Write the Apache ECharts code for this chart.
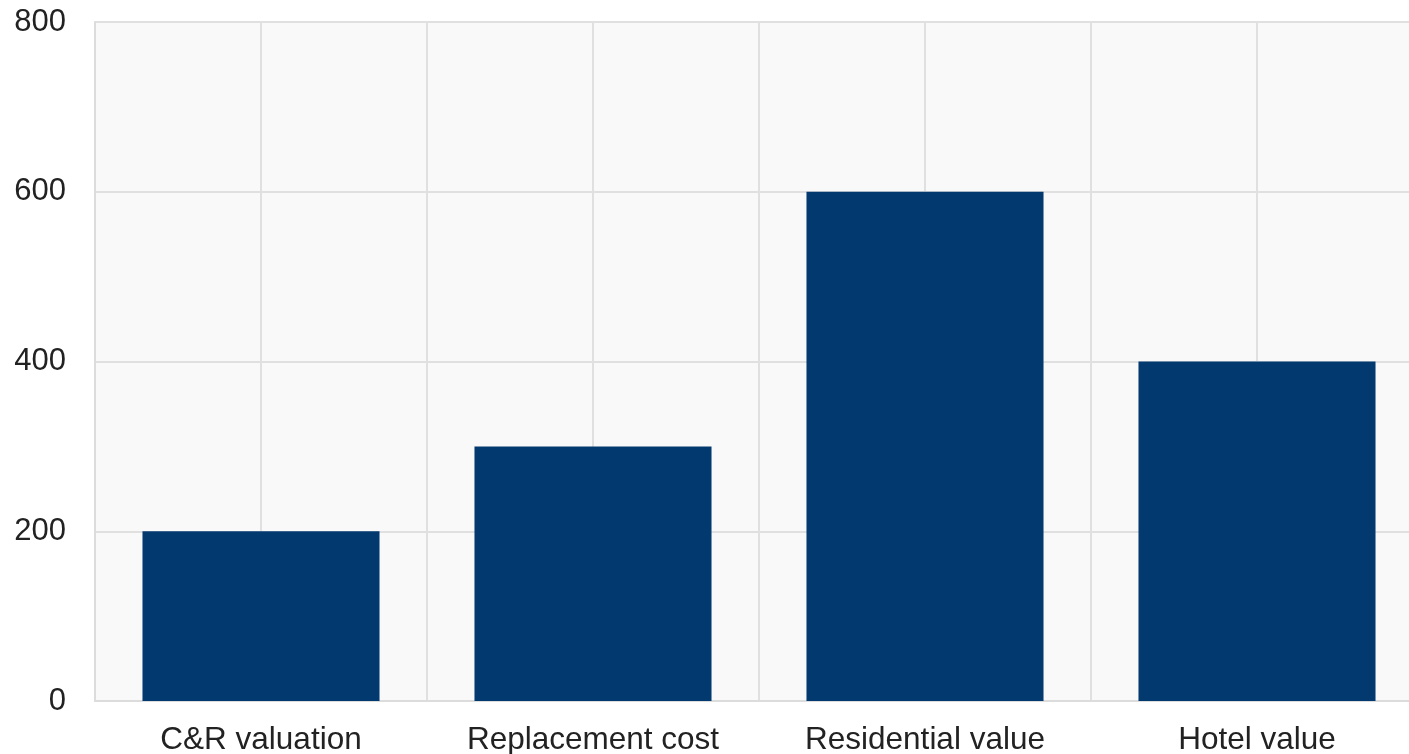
<!DOCTYPE html>
<html>
<head>
<meta charset="utf-8">
<script src="https://cdn.jsdelivr.net/npm/echarts@6/dist/echarts.min.js"></script>
<style>
  html, body { margin: 0; padding: 0; background: #fff; overflow: hidden; }
  #chart { width: 1423px; height: 754px; }
</style>
</head>
<body>
<div id="chart"></div>
<script>
var categories = ['C&R valuation', 'Replacement cost', 'Residential value', 'Hotel value'];
var values = [200, 300, 600, 400];
var yTicks = [0, 200, 400, 600, 800];

// the plot runs a little past the right edge of the window, as in the original
var chart = echarts.init(document.getElementById('chart'));
// second category axis only for the extra grid lines at bar centers
var halfSlots = [];
categories.forEach(function () {
    halfSlots.push('', '');
});
chart.setOption({
    animation: false,
    textStyle: {fontFamily: 'Liberation Sans, Arial, sans-serif'},
    grid: {
        left: 95, right: 0, top: 22, bottom: 53,
        outerBoundsMode: 'none',
        show: true, backgroundColor: '#f9f9f9', borderWidth: 0
    },
    xAxis: [{
        type: 'category',
        data: categories,
        axisLine: {lineStyle: {color: '#dcdcdc', width: 2}},
        axisTick: {show: false},
        splitLine: {show: true, lineStyle: {color: '#e0e0e0', width: 2}},
        axisLabel: {color: '#222', fontSize: 31.5, margin: 23, interval: 0}
    }, {
        type: 'category',
        data: halfSlots,
        position: 'bottom',
        axisLine: {show: false},
        axisTick: {show: false},
        axisLabel: {show: false},
        splitLine: {show: true, lineStyle: {color: '#e0e0e0', width: 2}}
    }],
    yAxis: {
        type: 'value',
        min: yTicks[0],
        max: yTicks[yTicks.length - 1],
        interval: 200,
        axisLine: {show: true, lineStyle: {color: '#dcdcdc', width: 2}},
        axisTick: {show: false},
        splitLine: {lineStyle: {color: '#e0e0e0', width: 2}},
        axisLabel: {color: '#222', fontSize: 31, margin: 29}
    },
    series: [{
        type: 'bar',
        xAxisIndex: 0,
        data: values,
        barWidth: '71.4%',
        itemStyle: {color: '#023a70'}
    }]
});
</script>
</body>
</html>
